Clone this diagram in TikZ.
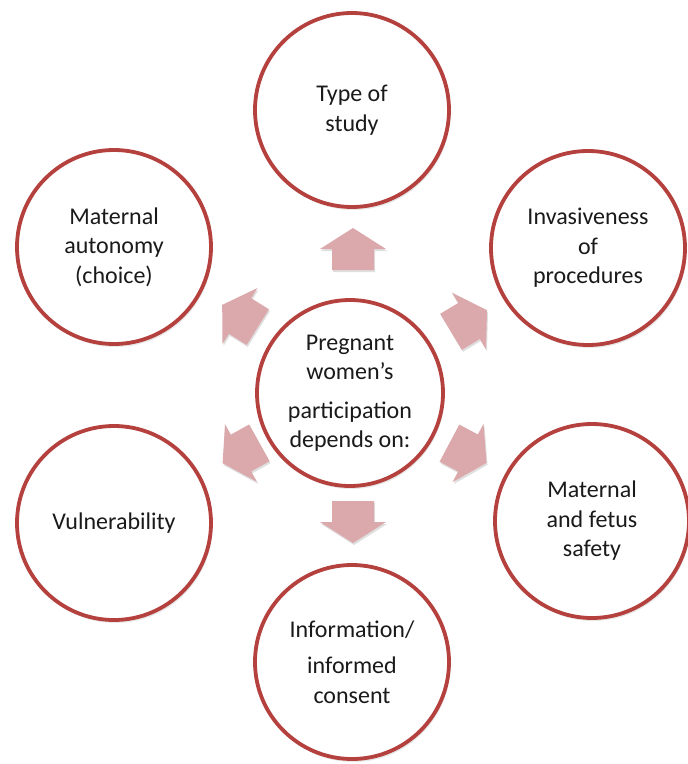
\documentclass[tikz,border=0pt]{standalone}
\usepackage{fontspec}
\setmainfont{Carlito}
\usetikzlibrary{shadows}
\definecolor{ring}{HTML}{B4413E}
\definecolor{arrowpink}{HTML}{DBA8AB}
\definecolor{txt}{HTML}{1A1A1A}
\begin{document}
\begin{tikzpicture}[x=1pt,y=-1pt,
  bubble/.style={circle, draw=ring, line width=3.8pt, fill=white,
    minimum size=194pt, inner sep=0pt, align=center,
    font=\fontsize{24}{29.5}\selectfont, text=txt,
    drop shadow={shadow xshift=1.5pt, shadow yshift=-3pt, opacity=0.18}},
  hub/.style={bubble, minimum size=186pt},
  blockarrow/.pic={
    \fill[arrowpink, drop shadow={shadow xshift=1pt, shadow yshift=-2pt, opacity=0.25}]
      (-21,-21) -- (0,-21) -- (0,-33) -- (21,0) -- (0,33) -- (0,21) -- (-21,21) -- cycle;
  }]
\useasboundingbox (0,0) rectangle (688,764);
\fill[white] (0,0) rectangle (688,764);

% arrows
\coordinate (aU)  at (353,249);
\coordinate (aD)  at (353,522);
\coordinate (aTL) at (240,316);
\coordinate (aTR) at (469,321);
\coordinate (aBL) at (241,453);
\coordinate (aBR) at (468,453);
\pic[rotate=90]  at (aU)  {blockarrow};
\pic[rotate=-90] at (aD)  {blockarrow};
\pic[rotate=148] at (aTL) {blockarrow};
\pic[rotate=31]  at (aTR) {blockarrow};
\pic[rotate=209] at (aBL) {blockarrow};
\pic[rotate=-28] at (aBR) {blockarrow};

% circles
\node[hub] (center) at (350,393) {Pregnant\\women’s\\[9pt]participation\\depends on:};
\node[bubble] (top) at (352,110) {Type of\\study};
\node[bubble] (tl) at (114,247) {Maternal\\autonomy\\(choice)};
\node[bubble] (tr) at (588,248) {Invasiveness\\of\\procedures};
\node[bubble] (bl) at (114,523) {Vulnerability};
\node[bubble] (br) at (592,521) {Maternal\\and fetus\\safety};
\node[bubble] (bot) at (352,662) {Information/\\[7pt]informed\\consent};
\end{tikzpicture}
\end{document}
